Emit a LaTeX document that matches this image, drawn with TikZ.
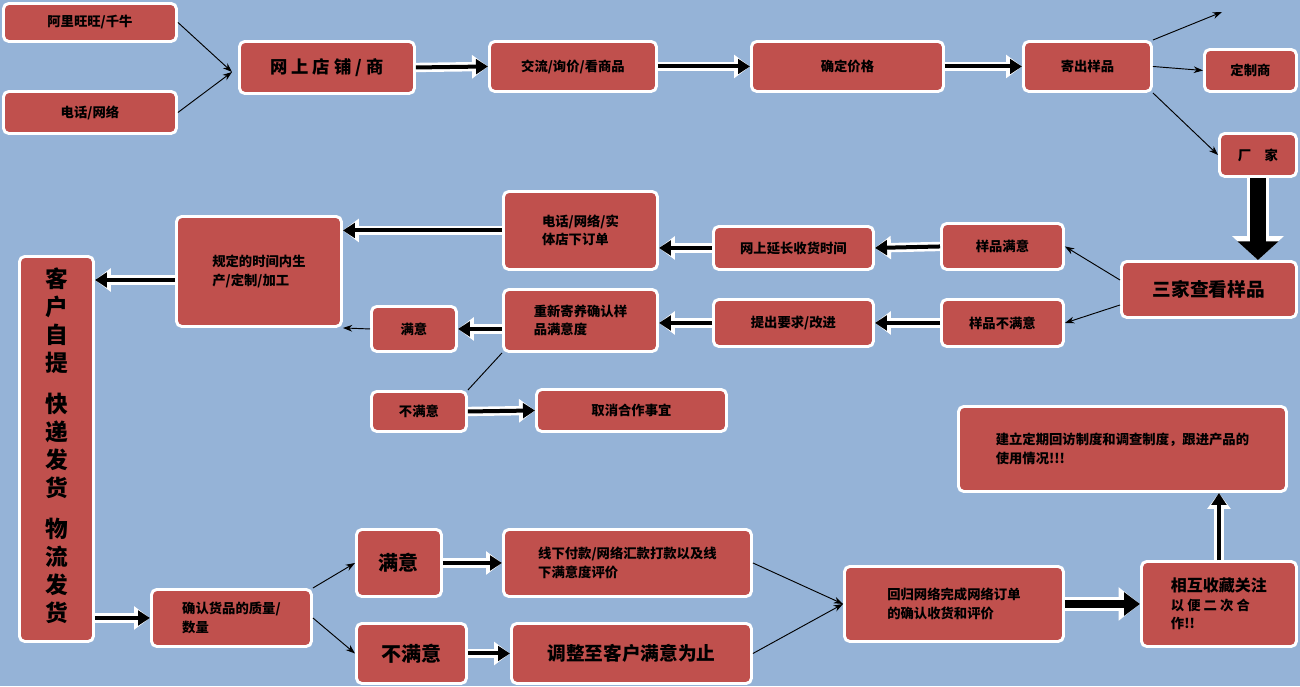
\documentclass[tikz,border=0pt]{standalone}
\usepackage{fontspec}
\newfontfamily\cjk{Noto Sans CJK SC}
\usetikzlibrary{arrows.meta}
\definecolor{bg}{HTML}{95B3D7}
\definecolor{bx}{HTML}{C0504D}
\tikzset{
 bx/.style={draw=white,line width=2.2pt,fill=bx,rounded corners=4pt,font=\cjk\bfseries\fontsize{10}{14}\selectfont,text=black,align=left},
 thin/.style={-{Stealth[length=7pt,width=5pt]},line width=0.7pt,black},
 fat/.style={line width=3pt,-{Triangle[length=9pt,width=11pt]},black,
   preaction={draw=white,line width=7pt,-{Triangle[length=12pt,width=17pt]}}},
}
\newcommand{\bxat}[6]{\node[bx,minimum width={(#3-#1)*0.75pt},minimum height={(#4-#2)*0.75pt},anchor=north west,inner sep=0pt] (#5) at (#1,#2) {#6};}
\begin{document}
\begin{tikzpicture}[x=0.75pt,y=-0.75pt]
\fill[bg] (0,0) rectangle (1300,686);
\useasboundingbox (0,0) rectangle (1300,686);
\bxat{2}{2}{175}{40}{a1}{阿里旺旺/千牛}
\bxat{2}{90}{175}{132}{a2}{电话/网络}
\bxat{238}{40}{413}{92}{wd}{\fontsize{13}{16}\selectfont 网 上 店 铺 / 商}
\bxat{488}{40}{655}{90}{jl}{交流/询价/看商品}
\bxat{750}{40}{942}{90}{qd}{确定价格}
\bxat{1022}{40}{1150}{90}{jc}{寄出样品}
\bxat{1203}{48}{1295}{90}{dz}{定制商}
\bxat{1218}{132}{1295}{175}{cj}{厂\quad 家}
\bxat{1120}{260}{1295}{316}{sj}{\fontsize{14}{17}\selectfont 三家查看样品}
\bxat{940}{222}{1062}{268}{my}{样品满意}
\bxat{940}{298}{1062}{345}{bmy}{样品不满意}
\bxat{712}{225}{872}{268}{yc}{网上延长收货时间}
\bxat{712}{298}{872}{345}{tc}{提出要求/改进}
\bxat{502}{190}{656}{268}{dh}{电话/网络/实\\体店下订单}
\bxat{502}{288}{656}{350}{cx}{重新寄养确认样\\品满意度}
\bxat{175}{215}{340}{325}{gd}{规定的时间内生\\产/定制/加工}
\bxat{370}{305}{455}{350}{m1}{满意}
\bxat{370}{390}{465}{430}{b1}{不满意}
\bxat{535}{388}{725}{430}{qx}{取消合作事宜}
\bxat{18}{255}{92}{640}{kh}{\fontsize{17}{21}\selectfont\begin{tabular}{@{}c@{}}客\\户\\自\\提\\[10pt]快\\递\\发\\货\\[10pt]物\\流\\发\\货\end{tabular}}
\bxat{150}{588}{310}{645}{qr}{确认货品的质量/\\数量}
\bxat{355}{528}{440}{595}{m2}{\fontsize{15}{18}\selectfont 满意}
\bxat{355}{622}{465}{682}{b2}{\fontsize{15}{18}\selectfont 不满意}
\bxat{502}{528}{750}{595}{xx}{线下付款/网络汇款打款以及线\\下满意度评价}
\bxat{510}{622}{750}{682}{tz}{\fontsize{14}{17}\selectfont 调整至客户满意为止}
\bxat{843}{565}{1062}{640}{hg}{回归网络完成网络订单\\的确认收货和评价}
\bxat{1140}{560}{1295}{645}{xh}{\fontsize{12}{17}\selectfont 相互收藏关注\\以\ 便\ 二\ 次\ 合\\作!!}
\bxat{957}{405}{1285}{490}{jl2}{建立定期回访制度和调查制度，跟进产品的\\使用情况!!!}
% thin arrows
\coordinate (p1) at (232,72);
\draw[thin] (a1.east) -- (p1);
\draw[thin] (a2.east) -- (p1);
\coordinate (up) at (1222,12);
\draw[thin] (jc.north east) -- (up);
\draw[thin] (jc.east) -- (dz.west);
\draw[thin] (jc.south east) -- (cj.west);
\draw[thin] (sj.west|-0,280) -- (my.east);
\draw[thin] (sj.west|-0,305) -- (bmy.east);
\draw[thin] (m1.west) -- (gd.south east);
\draw[line width=0.7pt] (b1.north east) -- (cx.south west);
\draw[thin] (xx.east) -- (hg.west);
\draw[thin] (tz.east) -- (hg.west);
\draw[thin] (qr.north east) -- (m2.west);
\draw[thin] (qr.east) -- (b2.west);
% fat arrows
\draw[fat] (wd.east) -- (jl.west);
\draw[fat] (jl.east) -- (qd.west);
\draw[fat] (qd.east) -- (jc.west);
\draw[fat] (my.west) -- (yc.east);
\draw[fat] (yc.west) -- (dh.east|-yc.west);
\draw[fat] (dh.west) -- (gd.east|-dh.west);
\draw[fat] (bmy.west) -- (tc.east);
\draw[fat] (tc.west) -- (cx.east|-tc.west);
\draw[fat] (cx.west|-m1.east) -- (m1.east);
\draw[fat] (gd.west|-0,280) -- (kh.east|-0,280);
\draw[fat] (b1.east) -- (qx.west);
\draw[fat] (kh.east|-qr.east) -- (qr.west);
\draw[fat] (m2.east) -- (xx.west|-m2.east);
\draw[fat] (b2.east) -- (tz.west|-b2.east);
\draw[fat] (xh.north) -- (jl2.south-|xh.north);
\draw[line width=6pt,-{Triangle[length=12pt,width=17pt]},preaction={draw=white,line width=10pt,-{Triangle[length=16pt,width=24pt]}}] (hg.east) -- (xh.west|-hg.east);
\draw[line width=12pt,-{Triangle[length=14pt,width=30pt]},preaction={draw=white,line width=16pt,-{Triangle[length=18pt,width=38pt]}}] (cj.south) -- (sj.north-|cj.south);
\end{tikzpicture}
\end{document}
